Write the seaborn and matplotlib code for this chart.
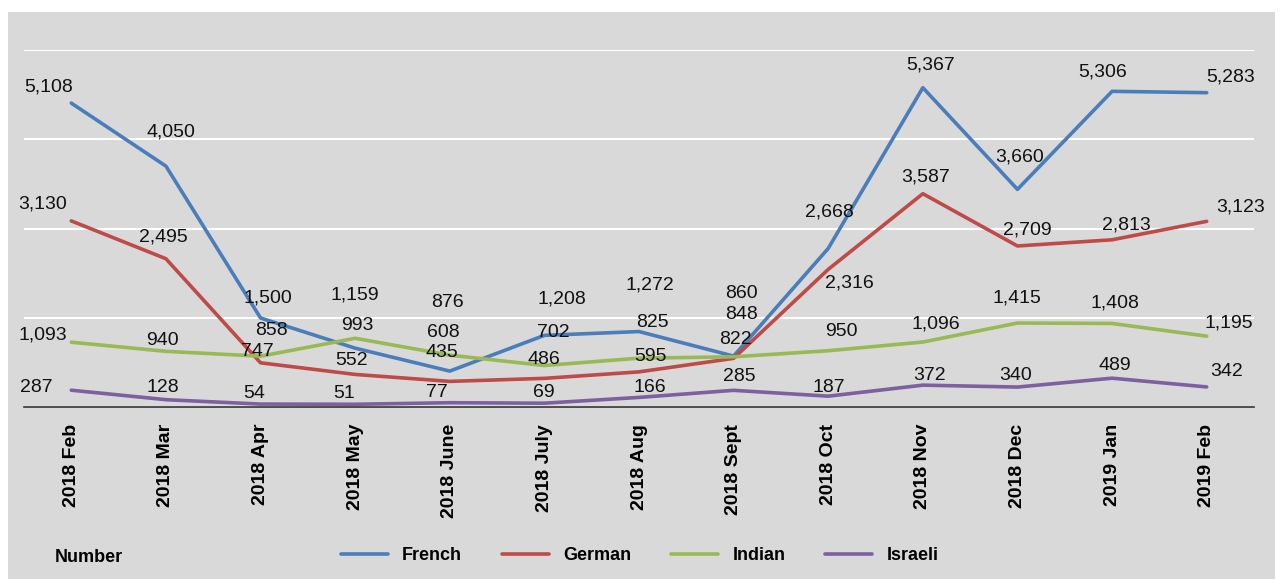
import numpy as np
import pandas as pd
import matplotlib
matplotlib.use('Agg')
import matplotlib.pyplot as plt
from matplotlib.patches import Rectangle
import seaborn as sns

months = ['2018 Feb', '2018 Mar', '2018 Apr', '2018 May', '2018 June', '2018 July',
          '2018 Aug', '2018 Sept', '2018 Oct', '2018 Nov', '2018 Dec', '2019 Jan', '2019 Feb']

french = [5108, 4050, 1500, 993, 608, 1208, 1272, 860, 2668, 5367, 3660, 5306, 5283]
german = [3130, 2495, 747, 552, 435, 486, 595, 822, 2316, 3587, 2709, 2813, 3123]
indian = [1093, 940, 858, 1159, 876, 702, 825, 848, 950, 1096, 1415, 1408, 1195]
israeli = [287, 128, 54, 51, 77, 69, 166, 285, 187, 372, 340, 489, 342]

series_names = ['French', 'German', 'Indian', 'Israeli']
colors = ['#4A7EBB', '#BE4B48', '#98B954', '#7D60A0']

# where each value label sits, pixels away from its point (dx, dy)
label_off = {
    'French': [(-23, 16), (5, 34), (7, 20), (2, 23), (-6, 39), (17, 36), (11, 47),
               (8, 63), (1, 36), (8, 23), (2, 32), (-9, 19), (24, 16)],
    'German': [(-29, 17), (-3, 22), (-3, 11), (-4, 14), (-8, 29), (-1, 19), (11, 15),
               (2, 19), (21, -14), (3, 17), (10, 16), (14, 15), (34, 14)],
    'Indian': [(-28, 7), (-3, 11), (11, 26), (0, 43), (-2, 53), (9, 33), (13, 36),
               (8, 42), (13, 19), (13, 18), (-1, 25), (3, 20), (22, 13)],
    'Israeli': [(-35, 3), (-3, 12), (-6, 11), (-11, 11), (-13, 10), (-1, 11), (11, 10),
                (6, 14), (1, 9), (7, 10), (-2, 12), (3, 13), (20, 15)],
}

values = {'French': french, 'German': german, 'Indian': indian, 'Israeli': israeli}
df = pd.DataFrame({
    'x': list(range(len(months))) * 4,
    'value': french + german + indian + israeli,
    'series': np.repeat(series_names, len(months)),
})

bg = '#D9D9D9'
sns.set_style('whitegrid', {'axes.facecolor': bg, 'grid.color': 'white',
                            'text.color': 'black', 'xtick.color': 'black'})
plt.rcParams['font.family'] = ['Liberation Sans', 'DejaVu Sans']

W, H = 1282, 579
fig = plt.figure(figsize=(W / 100, H / 100), dpi=100, facecolor='white')
fig.patches.append(Rectangle((8 / W, 0), (1275 - 8) / W, 1 - 12 / H,
                             transform=fig.transFigure, facecolor=bg, edgecolor='none', zorder=-10))
ax = fig.add_axes([24 / W, 1 - 407.3 / H, 1230 / W, (407.3 - 50) / H])

sns.lineplot(data=df, x='x', y='value', hue='series', palette=colors,
             linewidth=2.6, ax=ax, clip_on=False)

for name in series_names:
    for i, v in enumerate(values[name]):
        dx, dy = label_off[name][i]
        ax.annotate(f'{v:,}', xy=(i, v), xytext=(dx, dy), textcoords='offset pixels',
                    ha='center', va='center', fontsize=14, color='#111111',
                    annotation_clip=False)

ax.set_xlim(-0.5, len(months) - 0.5)
ax.set_ylim(0, 6000)
ax.set_yticks([0, 1500, 3000, 4500, 6000])
ax.set_yticklabels([])
ax.tick_params(axis='y', length=0)
ax.grid(axis='x', visible=False)
ax.grid(axis='y', color='white', linewidth=1.5)

ax.set_xticks(range(len(months)))
ax.set_xticklabels(months, rotation=90, fontsize=14, fontweight='bold', va='top', color='black')
ax.set_xticks(np.arange(-0.5, len(months)), minor=True)
ax.tick_params(axis='x', which='major', length=0, pad=12)
ax.tick_params(axis='x', which='minor', length=7, width=1.2, color='#333333', direction='out')
ax.set_xlabel('')
ax.set_ylabel('')
for s in ['top', 'right', 'left']:
    ax.spines[s].set_visible(False)
ax.spines['bottom'].set_color('#333333')
ax.spines['bottom'].set_linewidth(1.2)

sns.move_legend(ax, 'center', bbox_to_anchor=(0.499, 1 - 556 / H), bbox_transform=fig.transFigure,
                ncol=4, title=None, frameon=False, handlelength=2.6, columnspacing=2.2,
                prop={'weight': 'bold', 'size': 13}, labelcolor='black')

fig.text(55 / W, 1 - 558 / H, 'Number', fontsize=13, fontweight='bold', ha='left', va='center',
         color='black')

fig.savefig('out.png', dpi=100, facecolor=fig.get_facecolor())
